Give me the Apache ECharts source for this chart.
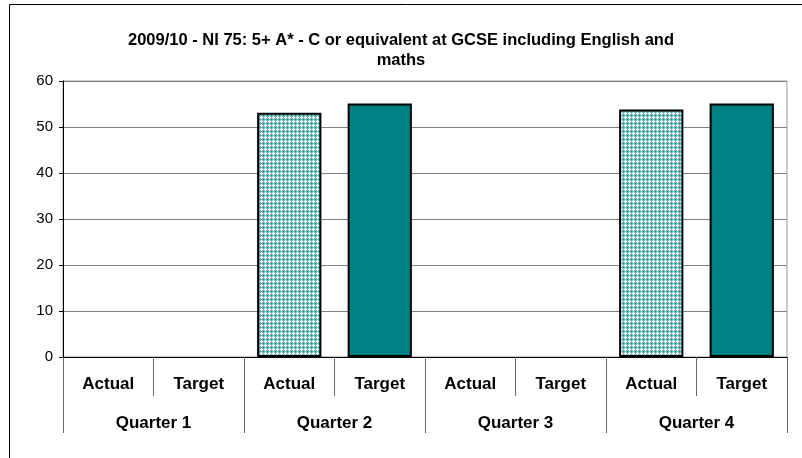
<!DOCTYPE html>
<html>
<head>
<meta charset="utf-8">
<title>NI 75</title>
<script src="https://cdn.jsdelivr.net/npm/echarts@6/dist/echarts.min.js"></script>
<style>
  body { margin: 0; background: #fff; }
  #divChart { width: 802px; height: 458px; }
</style>
</head>
<body>
<div id="divChart"></div>
<script>
"use strict";

// 数据
var subCategories = ['Actual', 'Target', 'Actual', 'Target', 'Actual', 'Target', 'Actual', 'Target'];
var quarters = ['Quarter 1', 'Quarter 2', 'Quarter 3', 'Quarter 4'];
var actualValues = [null, 53.1, null, 53.8];
var targetValues = [null, 55.1, null, 55.1];
var yTicks = [0, 10, 20, 30, 40, 50, 60];

// 网纹填充 (Actual)
function makePattern() {
    var c = document.createElement('canvas');
    c.width = 4;
    c.height = 4;
    var ctx = c.getContext('2d');
    ctx.fillStyle = '#6cb8b8';
    ctx.fillRect(0, 0, 4, 4);
    ctx.fillStyle = '#ffffff';
    ctx.fillRect(1, 0, 1, 3);
    ctx.fillRect(0, 1, 3, 1);
    ctx.fillStyle = '#1a8f8f';
    ctx.fillRect(3, 3, 1, 1);
    return c;
}

window.onload = function () {

    // 每个季度两个位置: Actual 在偶数位, Target 在奇数位
    var actualData = [];
    var targetData = [];
    for (var i = 0; i < quarters.length; i++) {
        actualData.push(actualValues[i] == null ? '-' : actualValues[i]);
        actualData.push('-');
        targetData.push('-');
        targetData.push(targetValues[i] == null ? '-' : targetValues[i]);
    }

    var labelFont = 'Liberation Sans, Arial, sans-serif';

    var option = {
        animation: false,
        title: {
            text: '2009/10 - NI 75: 5+ A* - C or equivalent at GCSE including English and\nmaths',
            left: 'center',
            top: 25,
            textStyle: {
                fontFamily: labelFont,
                fontSize: 16.5,
                fontWeight: 'bold',
                color: '#000',
                lineHeight: 20
            }
        },
        graphic: [{
            type: 'rect',
            silent: true,
            z: -10,
            shape: { x: 9.5, y: 4.5, width: 1000, height: 1000 },
            style: { fill: 'none', stroke: '#000', lineWidth: 1 }
        }],
        grid: {
            left: 63,
            right: 15,
            top: 81,
            bottom: 101,
            show: true,
            borderColor: '#999',
            borderWidth: 1
        },
        xAxis: [
            {
                type: 'category',
                data: subCategories,
                position: 'bottom',
                axisLine: { show: true, lineStyle: { color: '#000', width: 1 } },
                axisTick: { show: true, length: 39, interval: 0, lineStyle: { color: '#666' } },
                axisLabel: {
                    interval: 0,
                    margin: 19,
                    fontFamily: labelFont,
                    fontSize: 17,
                    fontWeight: 'bold',
                    color: '#000'
                }
            },
            {
                type: 'category',
                data: quarters,
                position: 'bottom',
                axisLine: { show: false },
                axisTick: { show: true, length: 76, interval: 0, lineStyle: { color: '#666' } },
                axisLabel: {
                    interval: 0,
                    margin: 58,
                    fontFamily: labelFont,
                    fontSize: 17,
                    fontWeight: 'bold',
                    color: '#000'
                }
            }
        ],
        yAxis: {
            type: 'value',
            min: yTicks[0],
            max: yTicks[yTicks.length - 1],
            interval: 10,
            axisLine: { show: true, lineStyle: { color: '#000' } },
            axisTick: { show: true, length: 4, lineStyle: { color: '#000' } },
            axisLabel: {
                margin: 10,
                fontFamily: labelFont,
                fontSize: 15,
                color: '#000'
            },
            splitLine: { show: true, lineStyle: { color: '#808080', width: 1 } }
        },
        series: [
            {
                name: 'Actual',
                type: 'bar',
                stack: 'q',
                xAxisIndex: 0,
                barWidth: '71%',
                data: actualData,
                itemStyle: {
                    color: { image: makePattern(), repeat: 'repeat' },
                    borderColor: '#000',
                    borderWidth: 2
                }
            },
            {
                name: 'Target',
                type: 'bar',
                stack: 'q',
                xAxisIndex: 0,
                barWidth: '71%',
                data: targetData,
                itemStyle: {
                    color: '#008080',
                    borderColor: '#000',
                    borderWidth: 2
                }
            }
        ]
    };

    var myChart = echarts.init(document.getElementById('divChart'));
    myChart.setOption(option);
};
</script>
</body>
</html>
